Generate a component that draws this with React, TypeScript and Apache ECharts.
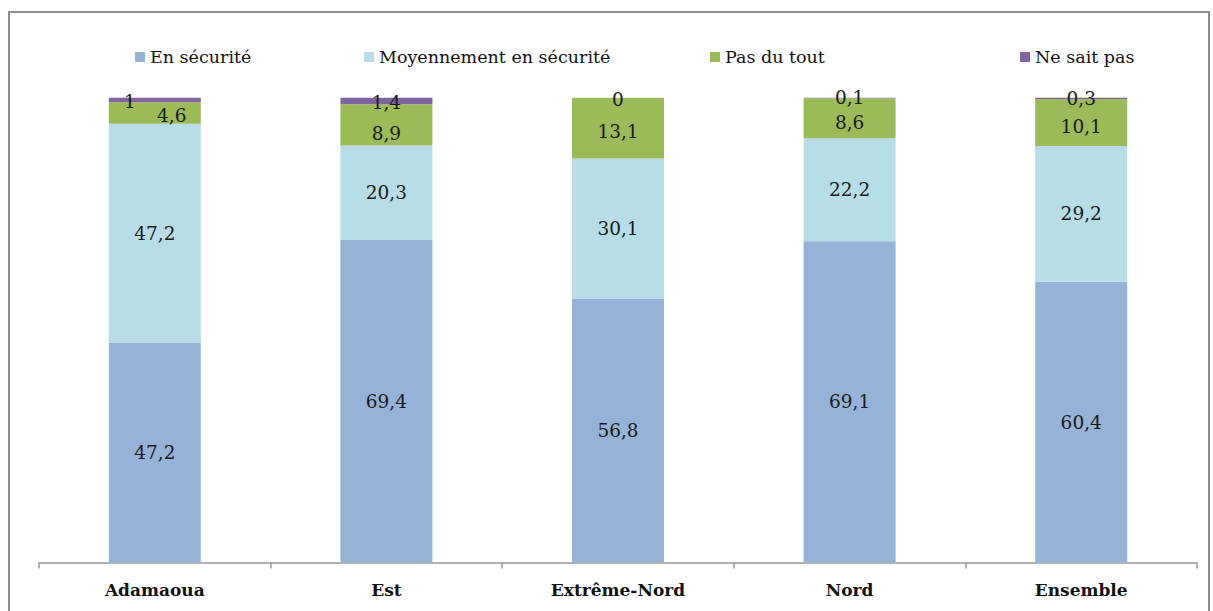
import React, { useEffect, useRef } from "react";
import * as echarts from "echarts";

const categories = ["Adamaoua", "Est", "Extrême-Nord", "Nord", "Ensemble"];
const seriesNames = ["En sécurité", "Moyennement en sécurité", "Pas du tout", "Ne sait pas"];
const enSecurite = [47.2, 69.4, 56.8, 69.1, 60.4];
const moyennement = [47.2, 20.3, 30.1, 22.2, 29.2];
const pasDuTout = [4.6, 8.9, 13.1, 8.6, 10.1];
const neSaitPas = [1, 1.4, 0, 0.1, 0.3];

const colors = ["#95B3D7", "#B7DEE8", "#9BBB59", "#8064A2"];
const fmt = (v: number) => String(v).replace(".", ",");
const FONT = "'DejaVu Serif', serif";

// per-label offsets [series][category]
const labelOffsets: number[][][] = [
  [[0, 0], [0, 0], [0, 0], [0, 0], [0, 0]],
  [[0, 0], [0, 0], [0, 0], [0, 0], [0, 0]],
  [[17, 2], [0, 9], [0, 3], [0, 4], [0, 4]],
  [[-25, 1], [0, 2], [0, 2], [0, 0], [0, 0]],
];

export default function App() {
  const ref = useRef<HTMLDivElement>(null);
  useEffect(() => {
    if (!ref.current) return;
    const chart = echarts.init(ref.current, null, { renderer: "svg" });
    const values = [enSecurite, moyennement, pasDuTout, neSaitPas];
    const legendLefts = [130, 359, 705, 1015];
    const option: any = {
      animation: false,
      backgroundColor: "#ffffff",
      textStyle: { fontFamily: FONT },
      graphic: [
        {
          type: "rect",
          shape: { x: 9, y: 12, width: 1200, height: 640 },
          style: { fill: "none", stroke: "#8c8c8c", lineWidth: 2 },
          silent: true,
          z: -1,
        },
      ],
      legend: seriesNames.map((n, i) => ({
        data: [n],
        left: legendLefts[i],
        top: 43,
        icon: "rect",
        itemWidth: 10,
        itemHeight: 10,
        itemGap: 0,
        textStyle: { fontFamily: FONT, fontSize: 17.5, color: "#111" },
        selectedMode: false,
      })),
      grid: { left: 39, right: 16, top: 97.7, bottom: 48.5, containLabel: false },
      xAxis: {
        type: "category",
        data: categories,
        axisLine: { lineStyle: { color: "#999999", width: 1.5 } },
        axisTick: { show: true, length: 6, lineStyle: { color: "#999999", width: 1.5 } },
        axisLabel: {
          margin: 19,
          fontFamily: FONT,
          fontSize: 17,
          fontWeight: "bold",
          color: "#111",
        },
      },
      yAxis: { type: "value", min: 0, max: 100, show: false, splitLine: { show: false } },
      series: seriesNames.map((n, si) => ({
        name: n,
        type: "bar",
        stack: "total",
        barWidth: 92,
        itemStyle: { color: colors[si] },
        data: values[si].map((v, ci) => ({
          value: v,
          label: { offset: labelOffsets[si][ci] },
        })),
        label: {
          show: true,
          position: "inside",
          fontFamily: FONT,
          fontSize: 18.5,
          lineHeight: 19,
          color: "#1a1a1a",
          formatter: (p: any) => fmt(p.value),
        },
      })),
    };
    chart.setOption(option);
    return () => chart.dispose();
  }, []);
  return (
    <div
      ref={ref}
      style={{ position: "fixed", left: 0, top: 0, width: 1213, height: 611 }}
    />
  );
}
